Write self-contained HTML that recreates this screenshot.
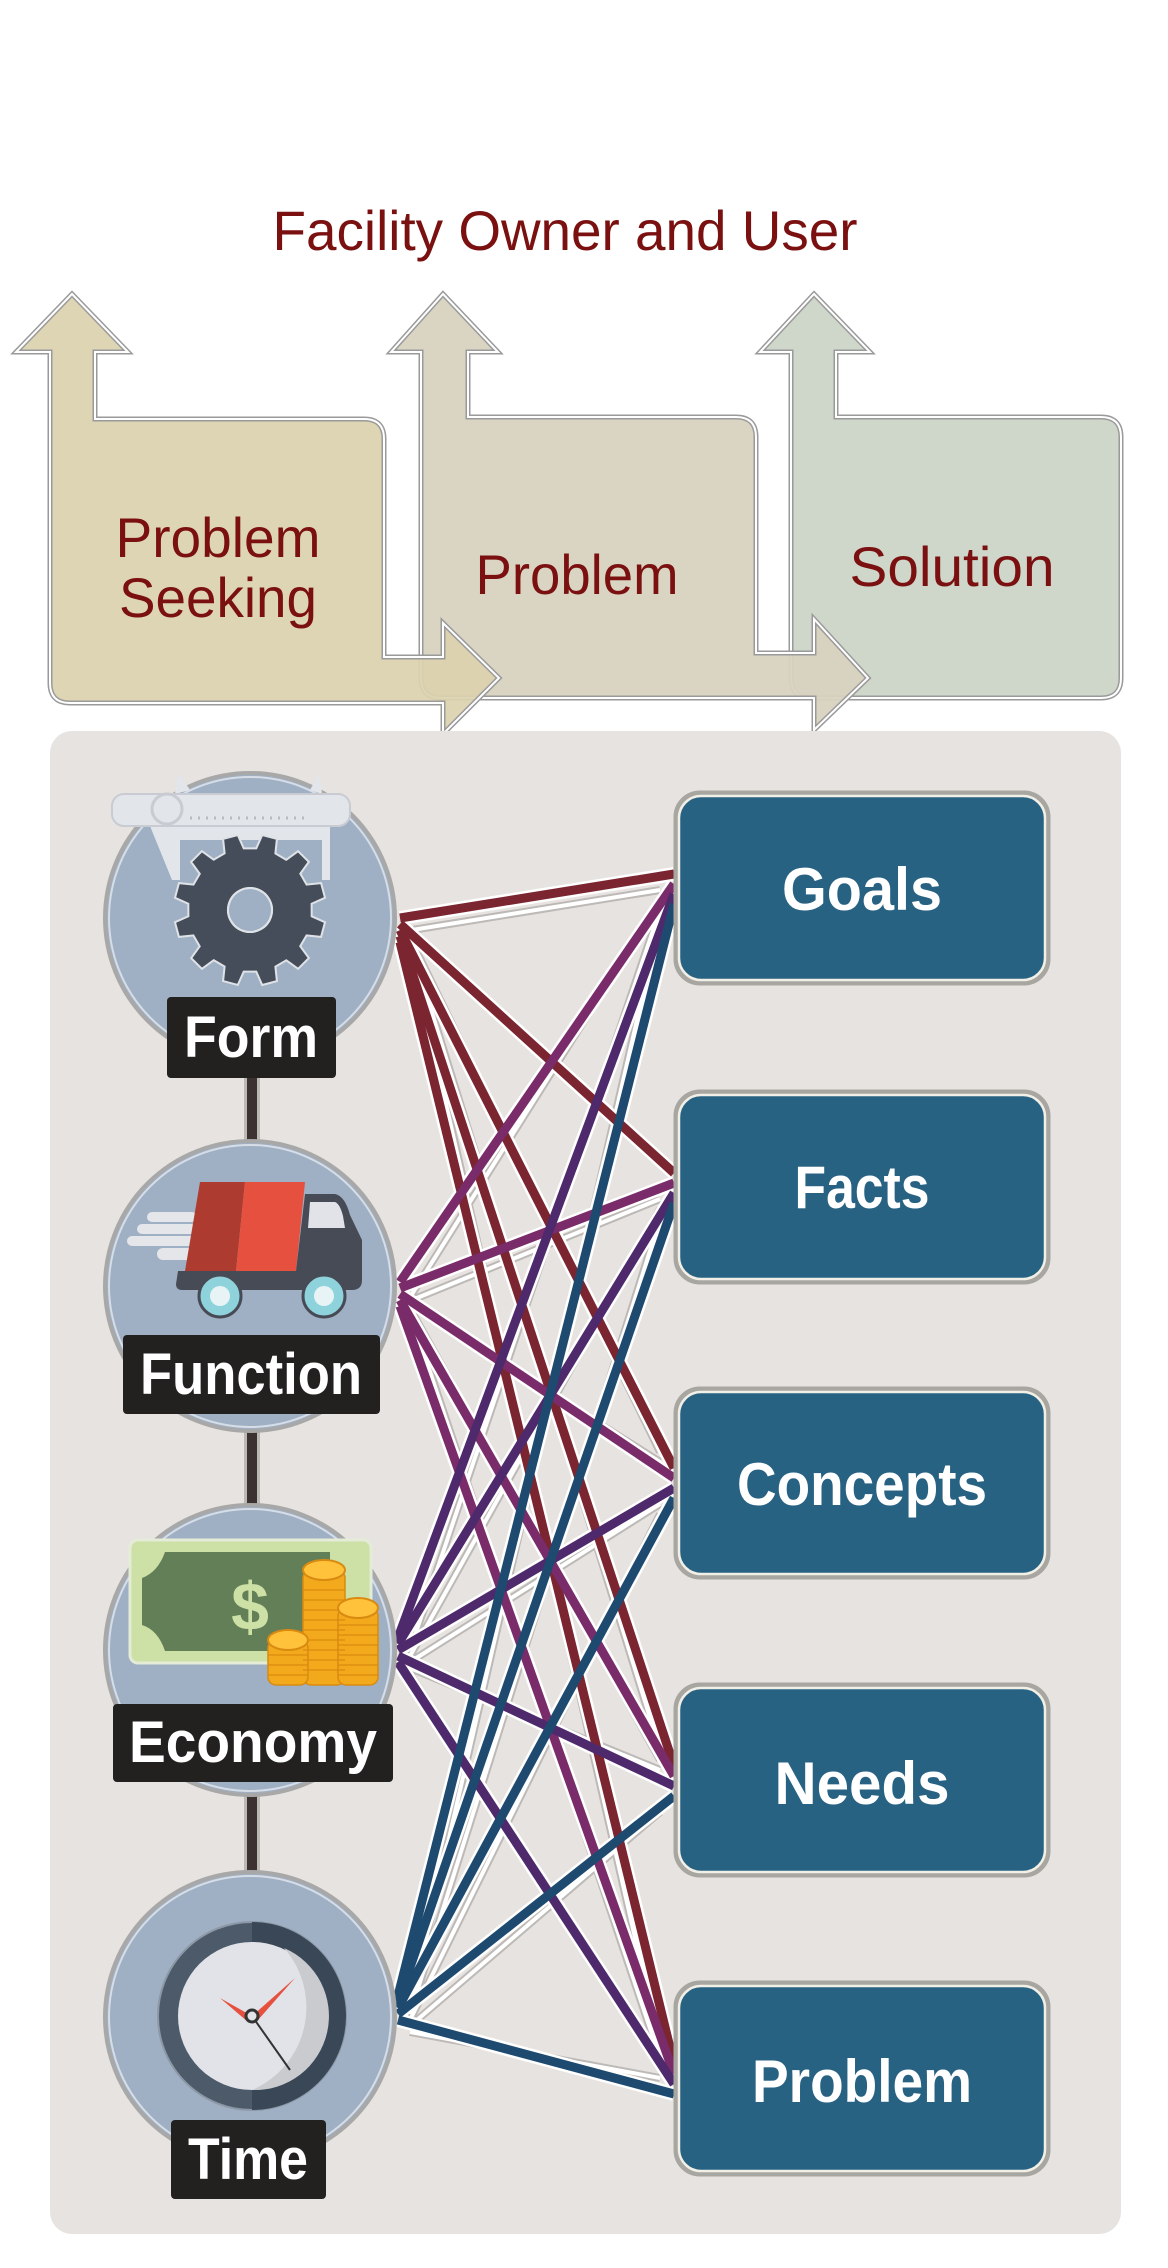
<!DOCTYPE html>
<html><head><meta charset="utf-8"><style>
html,body{margin:0;padding:0;background:#fff;}
svg{display:block;}
text{font-family:"Liberation Sans",sans-serif;}
</style></head><body>
<svg id="main" width="1168" height="2268" viewBox="0 0 1168 2268" xmlns="http://www.w3.org/2000/svg">
<rect width="1168" height="2268" fill="#fff"/>
<text x="565" y="250" font-size="56" fill="#7a1010" text-anchor="middle" textLength="585" lengthAdjust="spacingAndGlyphs">Facility Owner and User</text>

<g stroke-linejoin="miter">
<path d="M814,294 L870,352 L836,352 L836,417 L1101,417 Q1121,417 1121,437 L1121,678 Q1121,698 1101,698 L811,698 Q791,698 791,678 L791,352 L760,352 Z" fill="#cfd6ca" stroke="#9a9a9a" stroke-width="5"/>
<path d="M814,294 L870,352 L836,352 L836,417 L1101,417 Q1121,417 1121,437 L1121,678 Q1121,698 1101,698 L811,698 Q791,698 791,678 L791,352 L760,352 Z" fill="none" stroke="#fff" stroke-width="2"/>
<path d="M443,294 L498,352 L468,352 L468,417 L736,417 Q756,417 756,437 L756,653 L814,653 L814,619 L868,678 L814,730 L814,698 L441,698 Q421,698 421,678 L421,352 L391,352 Z" fill="#d8d2bf" fill-opacity="0.95" stroke="#9a9a9a" stroke-width="5"/>
<path d="M443,294 L498,352 L468,352 L468,417 L736,417 Q756,417 756,437 L756,653 L814,653 L814,619 L868,678 L814,730 L814,698 L441,698 Q421,698 421,678 L421,352 L391,352 Z" fill="none" stroke="#fff" stroke-width="2"/>
<path d="M72,294 L128,352 L95,352 L95,419 L364,419 Q384,419 384,439 L384,657 L443,657 L443,623 L499,678 L443,734 L443,703 L70,703 Q50,703 50,683 L50,352 L16,352 Z" fill="#dbd2ae" fill-opacity="0.93" stroke="#9a9a9a" stroke-width="5"/>
<path d="M72,294 L128,352 L95,352 L95,419 L364,419 Q384,419 384,439 L384,657 L443,657 L443,623 L499,678 L443,734 L443,703 L70,703 Q50,703 50,683 L50,352 L16,352 Z" fill="none" stroke="#fff" stroke-width="2"/>
</g>
<g fill="#7a1010" font-size="56">
<text x="218" y="557" text-anchor="middle" textLength="205" lengthAdjust="spacingAndGlyphs">Problem</text>
<text x="218" y="617" text-anchor="middle" textLength="198" lengthAdjust="spacingAndGlyphs">Seeking</text>
<text x="577" y="594" text-anchor="middle" textLength="203" lengthAdjust="spacingAndGlyphs">Problem</text>
<text x="952" y="586" text-anchor="middle" textLength="205" lengthAdjust="spacingAndGlyphs">Solution</text>
</g>

<rect x="50" y="731" width="1071" height="1503" rx="22" fill="#e7e3e0"/>

<rect x="244" y="1060" width="16" height="900" fill="#bcb8b4"/>
<rect x="247" y="1060" width="10" height="900" fill="#3b3231"/>

<g id="lines"></g>

<g>
<circle cx="250" cy="918" r="145" fill="#9fb0c4" stroke="#a8a8a8" stroke-width="4"/>
<circle cx="250" cy="918" r="141" fill="none" stroke="#d6dde6" stroke-width="2"/>
<circle cx="250" cy="1286" r="145" fill="#9fb0c4" stroke="#a8a8a8" stroke-width="4"/>
<circle cx="250" cy="1286" r="141" fill="none" stroke="#d6dde6" stroke-width="2"/>
<circle cx="250" cy="1650" r="145" fill="#9fb0c4" stroke="#a8a8a8" stroke-width="4"/>
<circle cx="250" cy="1650" r="141" fill="none" stroke="#d6dde6" stroke-width="2"/>
<circle cx="250" cy="2017" r="145" fill="#9fb0c4" stroke="#a8a8a8" stroke-width="4"/>
<circle cx="250" cy="2017" r="141" fill="none" stroke="#d6dde6" stroke-width="2"/>
</g>

<g>
<path d="M150,826 L330,826 L330,880 L322,880 L322,840 L180,840 L180,880 L172,880 Z" fill="#e2e5ea"/>
<path d="M175,794 L178,772 L190,790 Z M322,794 L320,772 L310,790 Z" fill="#e2e5ea"/>
<rect x="112" y="794" width="238" height="32" rx="12" fill="#e2e5ea" stroke="#c8ccd2" stroke-width="2"/>
<circle cx="167" cy="809" r="15" fill="#e2e5ea" stroke="#c8ccd2" stroke-width="3"/>
<line x1="190" y1="818" x2="305" y2="818" stroke="#b8bcc2" stroke-width="3" stroke-dasharray="2 6"/>
</g>
<g transform="translate(250,910) rotate(15)">
<path id="gearp" d="M0,0" fill="#464d5a" stroke="#dfe3e8" stroke-width="2"/>
<circle r="22" fill="none" stroke="#dfe3e8" stroke-width="2"/>
</g>

<g>
<rect x="127" y="1236" width="70" height="10" rx="5" fill="#e4e6ea"/>
<rect x="137" y="1224" width="60" height="10" rx="5" fill="#e4e6ea"/>
<rect x="147" y="1212" width="50" height="10" rx="5" fill="#e4e6ea"/>
<rect x="157" y="1248" width="40" height="12" rx="6" fill="#e4e6ea"/>
<path d="M200,1182 L245,1182 L236,1271 L185,1271 Z" fill="#ad3b30"/>
<path d="M245,1182 L305,1182 L296,1271 L236,1271 Z" fill="#e6513f"/>
<path d="M305,1194 L335,1194 Q345,1196 350,1215 L362,1240 L362,1280 Q362,1290 352,1290 L182,1290 Q176,1290 176,1284 L178,1271 L296,1271 Z" fill="#474b56"/>
<path d="M310,1202 L335,1202 Q340,1204 343,1216 L345,1228 L308,1228 Z" fill="#e1e3e8"/>
<circle cx="220" cy="1296" r="21" fill="#8ed3dc" stroke="#474b56" stroke-width="3"/>
<circle cx="220" cy="1296" r="10" fill="#e8f3f5"/>
<circle cx="324" cy="1296" r="21" fill="#8ed3dc" stroke="#474b56" stroke-width="3"/>
<circle cx="324" cy="1296" r="10" fill="#e8f3f5"/>
</g>

<g>
<rect x="130" y="1540" width="241" height="123" rx="8" fill="#cde0a6" stroke="#e4ecd8" stroke-width="3"/>
<path d="M165,1552 L330,1552 L330,1651 L165,1651 Q158,1630 142,1625 L142,1578 Q158,1572 165,1552 Z" fill="#637f58"/>
<text x="250" y="1630" font-size="68" font-weight="bold" fill="#cde0a6" text-anchor="middle">$</text>
<g fill="#f2a91c" stroke="#d98a10" stroke-width="1.5">
<rect x="303" y="1570" width="42" height="115" rx="8"/>
<rect x="268" y="1640" width="40" height="45" rx="8"/>
<rect x="338" y="1608" width="40" height="77" rx="8"/>
</g>
<g stroke="#d98a10" stroke-width="1.2" fill="none">
<path d="M303,1590 H345 M303,1600 H345 M303,1610 H345 M303,1620 H345 M303,1630 H345 M303,1640 H345 M303,1650 H345 M303,1660 H345 M303,1670 H345"/>
<path d="M268,1655 H308 M268,1665 H308 M268,1675 H308"/>
<path d="M338,1625 H378 M338,1635 H378 M338,1645 H378 M338,1655 H378 M338,1665 H378 M338,1675 H378"/>
</g>
<g fill="#ffc23a" stroke="#d98a10" stroke-width="2">
<ellipse cx="324" cy="1570" rx="21" ry="10"/>
<ellipse cx="288" cy="1640" rx="20" ry="10"/>
<ellipse cx="358" cy="1608" rx="20" ry="10"/>
</g>
</g>

<g>
<circle cx="252" cy="2016" r="94" fill="#4c5a69" stroke="#8c98a6" stroke-width="2"/>
<path d="M252,1922 A94,94 0 0,1 252,2110 Z" fill="#3a4756"/>
<circle cx="252" cy="2016" r="74" fill="#e1e3e8"/>
<path d="M284,1948 A74,74 0 0,1 252,2090 A90,90 0 0,0 284,1948 Z" fill="#c9cbcf"/>
<path d="M252,2016 L295,1978 L258,2020 Z" fill="#e6513f"/>
<path d="M252,2016 L220,1998 L248,2022 Z" fill="#e6513f"/>
<line x1="252" y1="2016" x2="290" y2="2070" stroke="#333" stroke-width="2"/>
<circle cx="252" cy="2016" r="6" fill="#e1e3e8" stroke="#333" stroke-width="3"/>
</g>

<g fill="#222120">
<rect x="167" y="997" width="169" height="81" rx="4"/>
<rect x="123" y="1335" width="257" height="79" rx="4"/>
<rect x="113" y="1704" width="280" height="78" rx="4"/>
<rect x="171" y="2120" width="155" height="79" rx="4"/>
</g>
<g fill="#fff" font-size="58" text-anchor="middle" font-weight="bold">
<text x="251" y="1057" textLength="134" lengthAdjust="spacingAndGlyphs">Form</text>
<text x="251" y="1394" textLength="222" lengthAdjust="spacingAndGlyphs">Function</text>
<text x="253" y="1762" textLength="248" lengthAdjust="spacingAndGlyphs">Economy</text>
<text x="248" y="2179" textLength="120" lengthAdjust="spacingAndGlyphs">Time</text>
</g>

<g fill="#286283" stroke="#a8a6a0" stroke-width="5">
<rect x="676" y="793" width="372" height="190" rx="24"/>
<rect x="676" y="1092" width="372" height="190" rx="24"/>
<rect x="676" y="1389" width="372" height="188" rx="24"/>
<rect x="676" y="1685" width="372" height="190" rx="24"/>
<rect x="676" y="1983" width="372" height="191" rx="24"/>
</g>
<g fill="none" stroke="#f1efe6" stroke-width="2.5">
<rect x="679" y="796" width="366" height="184" rx="22"/>
<rect x="679" y="1095" width="366" height="184" rx="22"/>
<rect x="679" y="1392" width="366" height="182" rx="22"/>
<rect x="679" y="1688" width="366" height="184" rx="22"/>
<rect x="679" y="1986" width="366" height="185" rx="22"/>
</g>
<g fill="#fff" font-size="60" text-anchor="middle" font-weight="bold">
<text x="862" y="910" textLength="160" lengthAdjust="spacingAndGlyphs">Goals</text>
<text x="862" y="1208" textLength="135" lengthAdjust="spacingAndGlyphs">Facts</text>
<text x="862" y="1505" textLength="250" lengthAdjust="spacingAndGlyphs">Concepts</text>
<text x="862" y="1804" textLength="175" lengthAdjust="spacingAndGlyphs">Needs</text>
<text x="862" y="2102" textLength="220" lengthAdjust="spacingAndGlyphs">Problem</text>
</g>
</svg>
<script>
(function(){
var ns='http://www.w3.org/2000/svg';
var d='';var n=12;
for(var i=0;i<n;i++){var a0=i*2*Math.PI/n;var pts=[[62,a0-0.16],[76,a0-0.1],[76,a0+0.1],[62,a0+0.16],[62,a0+2*Math.PI/n-0.16]];
for(var j=0;j<pts.length;j++){var p=pts[j];var x=(p[0]*Math.cos(p[1])).toFixed(1),y=(p[0]*Math.sin(p[1])).toFixed(1);d+=((i===0 && j===0)?'M':'L')+x+','+y;}}
d+='Z M22,0 A22,22 0 1,0 -22,0 A22,22 0 1,0 22,0 Z';
var gp=document.getElementById('gearp');gp.setAttribute('d',d);gp.setAttribute('fill-rule','evenodd');
var srcs=[[400,918,'#7a2530'],[400,1288,'#7a2c6a'],[398,1650,'#4e2a6c'],[398,2014,'#1f4a70']];
var tg=[888,1187,1482,1780,2078];
var g=document.getElementById('lines');
function ln(x1,y1,x2,y2,c,w){var l=document.createElementNS(ns,'line');l.setAttribute('x1',x1);l.setAttribute('y1',y1);l.setAttribute('x2',x2);l.setAttribute('y2',y2);l.setAttribute('stroke',c);l.setAttribute('stroke-width',w);g.appendChild(l);}
var shad=[],col=[];
for(var si=0;si<4;si++){for(var ti=0;ti<5;ti++){var s=srcs[si],t=tg[ti];
var sy=s[1]+(ti-si)*6, ty=t-14+si*10;
shad.push([s[0]+12,sy+12,660,ty+(t>s[1]?-16:16)]);
col.push([s[0],sy,674,ty,s[2]]);}}
shad.forEach(function(a){ln(a[0],a[1],a[2],a[3],'#bdb9b6',8);});
shad.forEach(function(a){ln(a[0],a[1],a[2],a[3],'#ffffff',4);});
col.forEach(function(a){ln(a[0],a[1],a[2],a[3],'#ffffff',14);});
col.forEach(function(a){ln(a[0],a[1],a[2],a[3],a[4],9);});
})();
</script>
</body></html>
